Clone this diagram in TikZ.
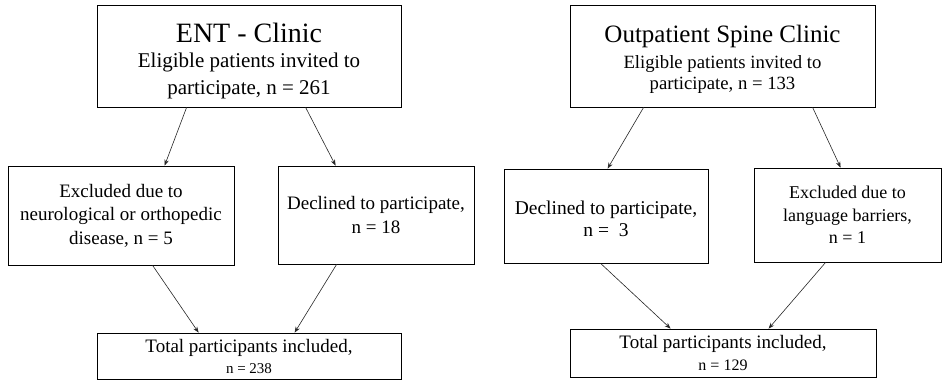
\documentclass[tikz,border=0pt]{standalone}
\usepackage{fontspec}
\setmainfont{Liberation Serif}
\usepackage{tikz}
\usetikzlibrary{arrows.meta}

\tikzset{
  box/.style={draw, line width=0.8pt, align=center, inner sep=0pt},
  arr/.style={line width=0.6pt, black!85, -{Stealth[length=6pt,width=4.5pt]}}
}

\begin{document}
\begin{tikzpicture}[x=1pt, y=-1pt]

\useasboundingbox (0,0) rectangle (942,380);

% ENT clinic
\node[box, minimum width=304pt, minimum height=102pt,
      font=\fontsize{21}{27}\selectfont] (ent) at (249,56)
  {{\fontsize{28}{28}\selectfont\rule{0pt}{30pt}ENT - Clinic}\\[-2pt]
   Eligible patients invited to\\participate, n = 261};
\node[box, minimum width=226pt, minimum height=99pt,
      font=\fontsize{19}{23.5}\selectfont] (excl) at (121,215.5)
  {Excluded due to\\neurological or orthopedic\\disease, n = 5};
\node[box, minimum width=196pt, minimum height=98pt,
      font=\fontsize{19}{23.5}\selectfont] (decl) at (376,215)
  {Declined to participate,\\n = 18};
\node[box, minimum width=304pt, minimum height=46pt,
      font=\fontsize{19}{21}\selectfont] (total) at (249,356)
  {Total participants included,\\
   {\fontsize{15}{21}\selectfont n = 238}};

% Spine clinic
\node[box, minimum width=305pt, minimum height=102pt,
      font=\fontsize{18.7}{21}\selectfont] (spine) at (722.5,56)
  {{\fontsize{25}{26}\selectfont\rule{0pt}{24pt}Outpatient Spine Clinic}\\[5pt]
   Eligible patients invited to\\participate, n = 133};
\node[box, minimum width=204pt, minimum height=94pt,
      font=\fontsize{19.5}{22}\selectfont] (decltwo) at (606,216)
  {\rule{0pt}{20pt}Declined to participate,\\n =\ \ 3};
\node[box, minimum width=187pt, minimum height=94pt,
      font=\fontsize{18}{22.5}\selectfont] (lang) at (847.5,215)
  {Excluded due to\\language barriers,\\n = 1};
\node[box, minimum width=306pt, minimum height=48pt,
      font=\fontsize{19}{22}\selectfont] (totaltwo) at (723,353)
  {Total participants included,\\
   {\fontsize{16}{22}\selectfont n = 129}};

% Arrows
\draw[arr] ([xshift=90pt]ent.south west) -- ([xshift=157pt]excl.north west);
\draw[arr] ([xshift=209pt]ent.south west) -- ([xshift=58pt]decl.north west);
\draw[arr] ([xshift=145pt]excl.south west) -- ([xshift=102pt]total.north west);
\draw[arr] ([xshift=59pt]decl.south west) -- ([xshift=198pt]total.north west);

\draw[arr] ([xshift=74pt]spine.south west) -- ([xshift=104pt]decltwo.north west);
\draw[arr] ([xshift=243pt]spine.south west) -- ([xshift=87pt]lang.north west);
\draw[arr] ([xshift=97pt]decltwo.south west) -- ([xshift=101pt]totaltwo.north west);
\draw[arr] ([xshift=72pt]lang.south west) -- ([xshift=199pt]totaltwo.north west);

\end{tikzpicture}
\end{document}
